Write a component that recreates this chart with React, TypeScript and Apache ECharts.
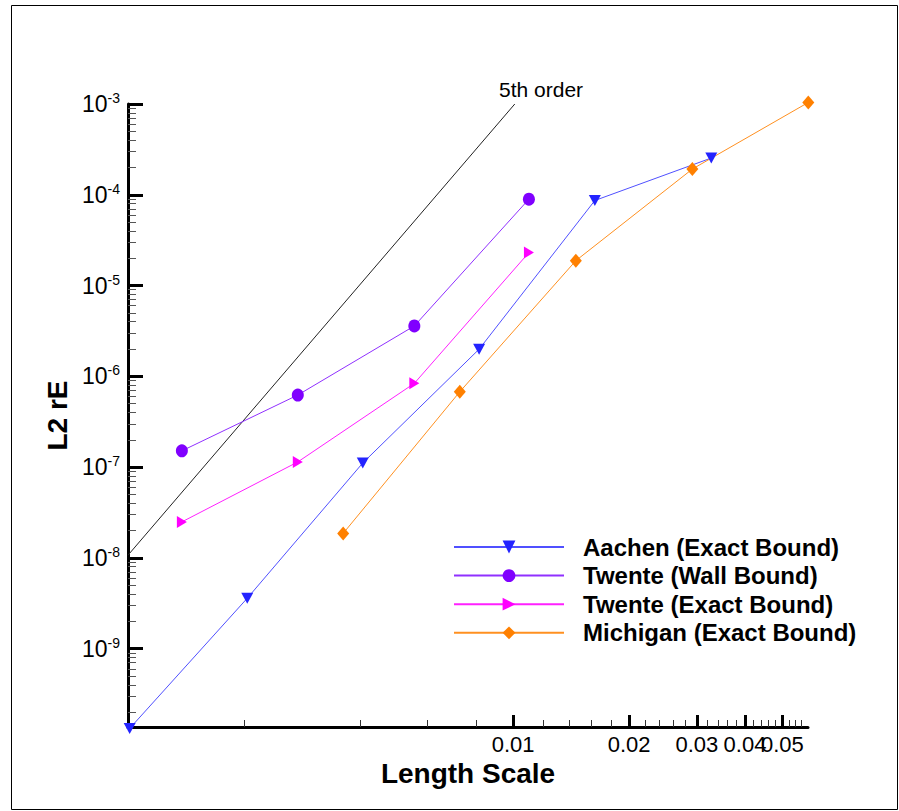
import React, { useEffect, useRef } from "react";
import * as echarts from "echarts";

// ---- data ----
const aachenX = [0.00101, 0.00204, 0.00407, 0.00816, 0.0163, 0.0327];
const aachenY = [1.32e-10, 3.59e-9, 1.11e-7, 1.99e-6, 8.65e-5, 2.54e-4];

const twenteX = [0.00138, 0.00276, 0.00554, 0.01099];
const twenteWallY = [1.51e-7, 6.22e-7, 3.59e-6, 8.95e-5];
const twenteExactY = [2.49e-8, 1.14e-7, 8.37e-7, 2.31e-5];

const michiganX = [0.00362, 0.00727, 0.01455, 0.0292, 0.0584];
const michiganY = [1.86e-8, 6.76e-7, 1.88e-5, 1.92e-4, 1.04e-3];

const refX = [0.001, 0.0101];
const refY = [1.07e-8, 1.0e-3];
const refLabel = "5th order";

const xMin = 0.001;
const xMax = 0.0583;
const yMin = 1.37e-10;
const yMax = 1e-3;

const xMajorTicks = [0.01, 0.02, 0.03, 0.04, 0.05];
const xMinorTicks = [
  0.002, 0.004, 0.006, 0.008,
  0.012, 0.014, 0.016, 0.018,
  0.022, 0.024, 0.026, 0.028,
  0.032, 0.034, 0.036, 0.038,
  0.042, 0.044, 0.046, 0.048,
  0.052, 0.054, 0.056,
];
const yMajorExponents = [-9, -8, -7, -6, -5, -4, -3];
const yMinorMantissas = [2, 3, 4, 5, 6, 7, 8, 9];
const yMinorDecades = [-10, -9, -8, -7, -6, -5, -4];

const seriesNames = [
  "Aachen (Exact Bound)",
  "Twente (Wall Bound)",
  "Twente (Exact Bound)",
  "Michigan (Exact Bound)",
];

const FONT = "'Liberation Sans', Arial, Helvetica, sans-serif";

const L = (v: number) => Math.log10(v);
const pairs = (xs: number[], ys: number[]) => xs.map((x, i) => [L(x), L(ys[i])]);

export default function App() {
  const ref = useRef<HTMLDivElement>(null);

  useEffect(() => {
    if (!ref.current) return;
    const chart = echarts.init(ref.current, null, { renderer: "svg" });

    const yMinor: number[] = [];
    yMinorDecades.forEach((d) =>
      yMinorMantissas.forEach((m) => {
        const v = m * Math.pow(10, d);
        if (v > yMin && v < yMax) yMinor.push(L(v));
      })
    );

    // labels split over two overlapping axes so that the library does not drop overlapping ones
    const xLabelsA = xMajorTicks.filter((_, i) => i % 2 === 0).map(L);
    const xLabelsB = xMajorTicks.filter((_, i) => i % 2 === 1).map(L);
    const xLabelFmt = (v: number) => String(Number(Math.pow(10, v).toPrecision(2)));

    const labelBase = {
      show: true,
      margin: 6,
      fontFamily: FONT,
      fontSize: 22,
      color: "#000",
      hideOverlap: false,
      formatter: xLabelFmt,
    };

    const baseX = {
      type: "value" as const,
      min: L(xMin),
      max: L(xMax),
      gridIndex: 0,
      position: "bottom" as const,
      splitLine: { show: false },
    };
    const baseY = {
      type: "value" as const,
      min: L(yMin),
      max: L(yMax),
      gridIndex: 0,
      position: "left" as const,
      splitLine: { show: false },
    };

    const option: any = {
      animation: false,
      backgroundColor: "#ffffff",
      grid: { left: 128, top: 104, width: 680, height: 623, containLabel: false },
      xAxis: [
        {
          ...baseX,
          name: "Length Scale",
          nameLocation: "middle",
          nameGap: 24,
          nameTextStyle: { fontFamily: FONT, fontSize: 28, fontWeight: "bold", color: "#000" },
          axisLine: { show: true, lineStyle: { color: "#000", width: 3 } },
          axisTick: {
            show: true,
            inside: true,
            length: 12,
            lineStyle: { color: "#000", width: 3 },
            customValues: xMajorTicks.map(L),
          },
          axisLabel: { ...labelBase, customValues: xLabelsA },
        },
        {
          ...baseX,
          axisLine: { show: false },
          axisTick: {
            show: true,
            inside: true,
            length: 7,
            lineStyle: { color: "#333", width: 1 },
            customValues: xMinorTicks.map(L),
          },
          axisLabel: { ...labelBase, customValues: xLabelsB },
        },
      ],
      yAxis: [
        {
          ...baseY,
          name: "L2 rE",
          nameLocation: "middle",
          nameGap: 52,
          nameTextStyle: { fontFamily: FONT, fontSize: 28, fontWeight: "bold", color: "#000" },
          axisLine: { show: true, lineStyle: { color: "#000", width: 3 } },
          axisTick: {
            show: true,
            inside: true,
            length: 15,
            lineStyle: { color: "#000", width: 3 },
            customValues: yMajorExponents,
          },
          axisLabel: {
            show: true,
            margin: 8,
            fontFamily: FONT,
            fontSize: 23,
            color: "#000",
            lineHeight: 26,
            hideOverlap: false,
            customValues: yMajorExponents,
            formatter: (v: number) => `10{sup|${Math.round(v)}}`,
            rich: {
              sup: {
                fontFamily: FONT,
                fontSize: 14,
                color: "#000",
                verticalAlign: "top",
                lineHeight: 14,
              },
            },
          },
        },
        {
          ...baseY,
          axisLine: { show: false },
          axisTick: {
            show: true,
            inside: true,
            length: 8,
            lineStyle: { color: "#555", width: 1 },
            customValues: yMinor,
          },
          axisLabel: { show: false },
        },
      ],
      legend: {
        data: seriesNames,
        orient: "vertical",
        left: 453,
        top: 535,
        padding: 0,
        itemWidth: 110,
        itemHeight: 16,
        itemGap: 4.6,
        textStyle: {
          fontFamily: FONT,
          fontSize: 24,
          fontWeight: "bold",
          color: "#000",
          lineHeight: 24,
          padding: [0, 0, 0, 14],
        },
      },
      graphic: [
        {
          type: "rect",
          silent: true,
          shape: { x: 11.5, y: 5.5, width: 886, height: 804 },
          style: { fill: "none", stroke: "#000", lineWidth: 1 },
        },
        {
          type: "text",
          silent: true,
          x: 499,
          y: 89,
          style: {
            text: refLabel,
            font: `21px ${FONT}`,
            fill: "#000",
            verticalAlign: "middle",
            align: "left",
          },
        },
      ],
      series: [
        {
          name: "5th order",
          type: "line",
          data: pairs(refX, refY),
          showSymbol: false,
          symbol: "none",
          silent: true,
          clip: false,
          lineStyle: { color: "#222", width: 1 },
          z: 1,
        },
        {
          name: seriesNames[0],
          type: "line",
          data: pairs(aachenX, aachenY),
          symbol: "triangle",
          symbolRotate: 180,
          symbolSize: [12, 11],
          clip: false,
          itemStyle: { color: "#2323ff" },
          lineStyle: { color: "#5050ff", width: 1 },
          z: 3,
        },
        {
          name: seriesNames[1],
          type: "line",
          data: pairs(twenteX, twenteWallY),
          symbol: "circle",
          symbolSize: [12, 13],
          clip: false,
          itemStyle: { color: "#8000ff" },
          lineStyle: { color: "#9030ff", width: 1 },
          z: 3,
        },
        {
          name: seriesNames[2],
          type: "line",
          data: pairs(twenteX, twenteExactY),
          symbol: "triangle",
          symbolRotate: -90,
          symbolSize: [12, 10],
          clip: false,
          itemStyle: { color: "#ff00ff" },
          lineStyle: { color: "#ff20ff", width: 1 },
          z: 3,
        },
        {
          name: seriesNames[3],
          type: "line",
          data: pairs(michiganX, michiganY),
          symbol: "diamond",
          symbolSize: [12, 14],
          clip: false,
          itemStyle: { color: "#ff8000" },
          lineStyle: { color: "#ff9020", width: 1 },
          z: 3,
        },
      ],
    };

    chart.setOption(option);
    return () => chart.dispose();
  }, []);

  return (
    <div
      ref={ref}
      style={{ position: "absolute", left: 0, top: 0, width: 899, height: 811, background: "#fff" }}
    />
  );
}
